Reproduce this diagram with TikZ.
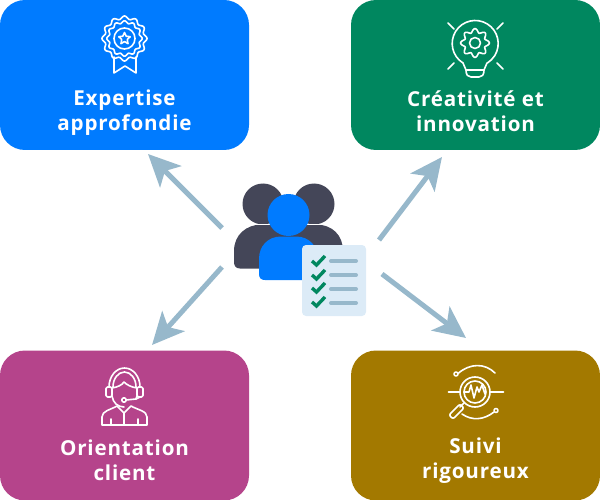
\documentclass[tikz,border=0pt]{standalone}
\usepackage{fontspec}
\setmainfont{Open Sans}[LetterSpace=4.0]
\usetikzlibrary{arrows.meta}
\definecolor{cardblue}{HTML}{007BFF}
\definecolor{cardgreen}{HTML}{00875F}
\definecolor{cardpurple}{HTML}{B5448B}
\definecolor{cardgold}{HTML}{A37900}
\definecolor{arrowblue}{HTML}{97B8CB}
\definecolor{teamgray}{HTML}{444658}
\definecolor{sheetblue}{HTML}{DCEBF7}
\tikzset{
  card/.style={minimum width=249pt, minimum height=150pt, rounded corners=25pt, outer sep=0pt, inner sep=0pt},
  cardlabel/.style={text=white, font=\fontsize{20.6}{25}\selectfont\bfseries, align=center, inner sep=0pt},
  spoke/.style={draw=arrowblue, line width=5pt, -{Stealth[length=32pt,width=30pt,inset=8pt]}},
  icon/.style={draw=white, line width=1.6pt, line cap=round, line join=round},
  sheetline/.style={draw=arrowblue, line width=4pt, line cap=round},
  tick/.style={draw=cardgreen, line width=3.4pt, line join=miter}
}
\begin{document}
\begin{tikzpicture}[x=1pt, y=-1pt]
\useasboundingbox (0,0) rectangle (600,500);
\node[card, fill=cardblue] (expertise) at (124.5,75) {};
\node[card, fill=cardgreen] (creativite) at (475.5,75) {};
\node[card, fill=cardpurple] (orientation) at (124.5,425.5) {};
\node[card, fill=cardgold] (suivi) at (475.5,425.5) {};

\node[cardlabel] (expertiselabel) at (124.5,113) {Expertise\\approfondie};
\node[cardlabel] (creativitelabel) at (475.5,111.5) {Créativité et\\innovation};
\node[cardlabel] (orientationlabel) at (124.5,460.5) {Orientation\\client};
\node[cardlabel] (suivilabel) at (475.5,460.5) {Suivi\\rigoureux};

% arrows
\coordinate (fromtl) at (222,228);
\coordinate (totl) at (148,154);
\coordinate (fromtr) at (379,240);
\coordinate (totr) at (442,157);
\coordinate (frombl) at (222,267);
\coordinate (tobl) at (152,345);
\coordinate (frombr) at (382,274);
\coordinate (tobr) at (466,338);
\draw[spoke] (fromtl) -- (totl);
\draw[spoke] (fromtr) -- (totr);
\draw[spoke] (frombl) -- (tobl);
\draw[spoke] (frombr) -- (tobr);

% team
\fill[teamgray] (263,204) circle (20.5);
\fill[teamgray] (314,204) circle (20.5);
\fill[teamgray] (240,268.5) .. controls (236,268.5) and (234,266) .. (234,262) -- (234,251) .. controls (234,235) and (246,224.5) .. (262,224.5) -- (316,224.5) .. controls (332,224.5) and (343,235) .. (343,251) -- (343,268.5) -- cycle;
\fill[white] (240,223.6) rectangle (338,224.5);
\fill[cardblue] (288.5,215) circle (21);
\fill[cardblue] (265,280) .. controls (261,280) and (259,278) .. (259,274) -- (259,259) .. controls (259,246) and (268,236.5) .. (281,236.5) -- (296,236.5) .. controls (309,236.5) and (318,246) .. (318,259) -- (318,280) -- cycle;

% checklist
\fill[sheetblue, rounded corners=4pt] (302,245) rectangle (366,316);
\draw[sheetline] (331,261) -- (356,261);
\draw[sheetline] (331,275) -- (356,275);
\draw[sheetline] (331,289) -- (356,289);
\draw[sheetline] (331,303) -- (356,303);
\draw[tick] (312,261) -- (316.5,265) -- (325,256);
\draw[tick] (312,275) -- (316.5,279) -- (325,270);
\draw[tick] (312,288) -- (316.5,292) -- (325,283);
\draw[tick] (312,302) -- (316.5,306) -- (325,297);

% medal
\draw[icon] plot[domain=0:360, samples=145, smooth] ({124.5+(21+1.5*cos(12*\x))*cos(\x)}, {38.5+(21+1.5*cos(12*\x))*sin(\x)});
\draw[icon] plot[domain=0:360, samples=145, smooth] ({124.5+(16.5+1.2*cos(12*\x))*cos(\x)}, {38.5+(16.5+1.2*cos(12*\x))*sin(\x)});
\draw[icon] (124.5,38.5) circle (10.5);
\draw[icon] (124.5,32.5) -- (126.2,36.2) -- (130.2,36.7) -- (127.3,39.5) -- (128,43.6) -- (124.5,41.6) -- (121,43.6) -- (121.7,39.5) -- (118.8,36.7) -- (122.8,36.2) -- cycle;
\draw[icon] (114,57) -- (114,73) -- (125,66) -- (136,73) -- (136,57);

% bulb
\draw[icon] (463,63) arc (122:418:23);
\draw[icon] plot[domain=0:360, samples=97, smooth] ({475+(12.5+1.9*cos(8*\x))*cos(\x)}, {43+(12.5+1.9*cos(8*\x))*sin(\x)});
\draw[icon] (475,43) circle (5.5);
\draw[icon] (463,63) -- (466,70) -- (484,70) -- (487,63);
\draw[icon] (466,70) .. controls (466,75) and (468,77) .. (471,77) -- (479,77) .. controls (482,77) and (484,75) .. (484,70);
\draw[icon] (448,23) -- (454,29);
\draw[icon] (503,23) -- (497,29);
\draw[icon] (448,69) -- (454,63);
\draw[icon] (503,69) -- (497,63);

% headset
\draw[icon] (109,387) arc (180:360:15.5 and 19);
\draw[icon] (113,387) arc (180:360:11.5 and 15);
\draw[icon, rounded corners=1.5pt] (106,387) rectangle (112,397);
\draw[icon, rounded corners=1.5pt] (137,387) rectangle (143,397);
\draw[icon] (112,388) .. controls (118,387) and (122,385) .. (124,382) .. controls (127,385) and (131,387) .. (137,388);
\draw[icon] (112,396) .. controls (113,403) and (118,407) .. (124,407);
\draw[icon] (137,396) -- (136,399);
\draw[icon] (124,400) circle (2.2);
\draw[icon] (126,400) -- (136,399) -- (140,397);
\draw[icon] (102,425) -- (102,417) .. controls (102,411) and (110,410) .. (117,406) -- (124,413) -- (131,406) .. controls (138,410) and (147,411) .. (147,417) -- (147,425) -- cycle;
\draw[icon] (124,413) -- (124,425);
\draw[icon] (111,419) -- (111,425);
\draw[icon] (138,419) -- (138,425);

% magnifier
\draw[icon] (475,392) circle (15);
\draw[icon] (475,392) circle (11);
\draw[icon] (448.5,392) -- (460,392);
\draw[icon] (490,392) -- (503.5,392);
\draw[icon] (464,392) -- (469,392) -- (471,385) -- (474,398) -- (477,387) -- (479,392) -- (482,385) -- (485,394);
\draw[icon] (464,403) -- (460,407);
\draw[icon, rounded corners=2pt] (460,404) -- (464,408) -- (453,419) -- (449,415) -- cycle;
\draw[icon] (458,373.5) .. controls (470,363) and (485,363) .. (495,373);
\draw[icon] (456,374) circle (2);
\draw[icon] (462,414) .. controls (472,421) and (484,420) .. (494,412);
\draw[icon] (496,410.5) circle (2);
\end{tikzpicture}
\end{document}
